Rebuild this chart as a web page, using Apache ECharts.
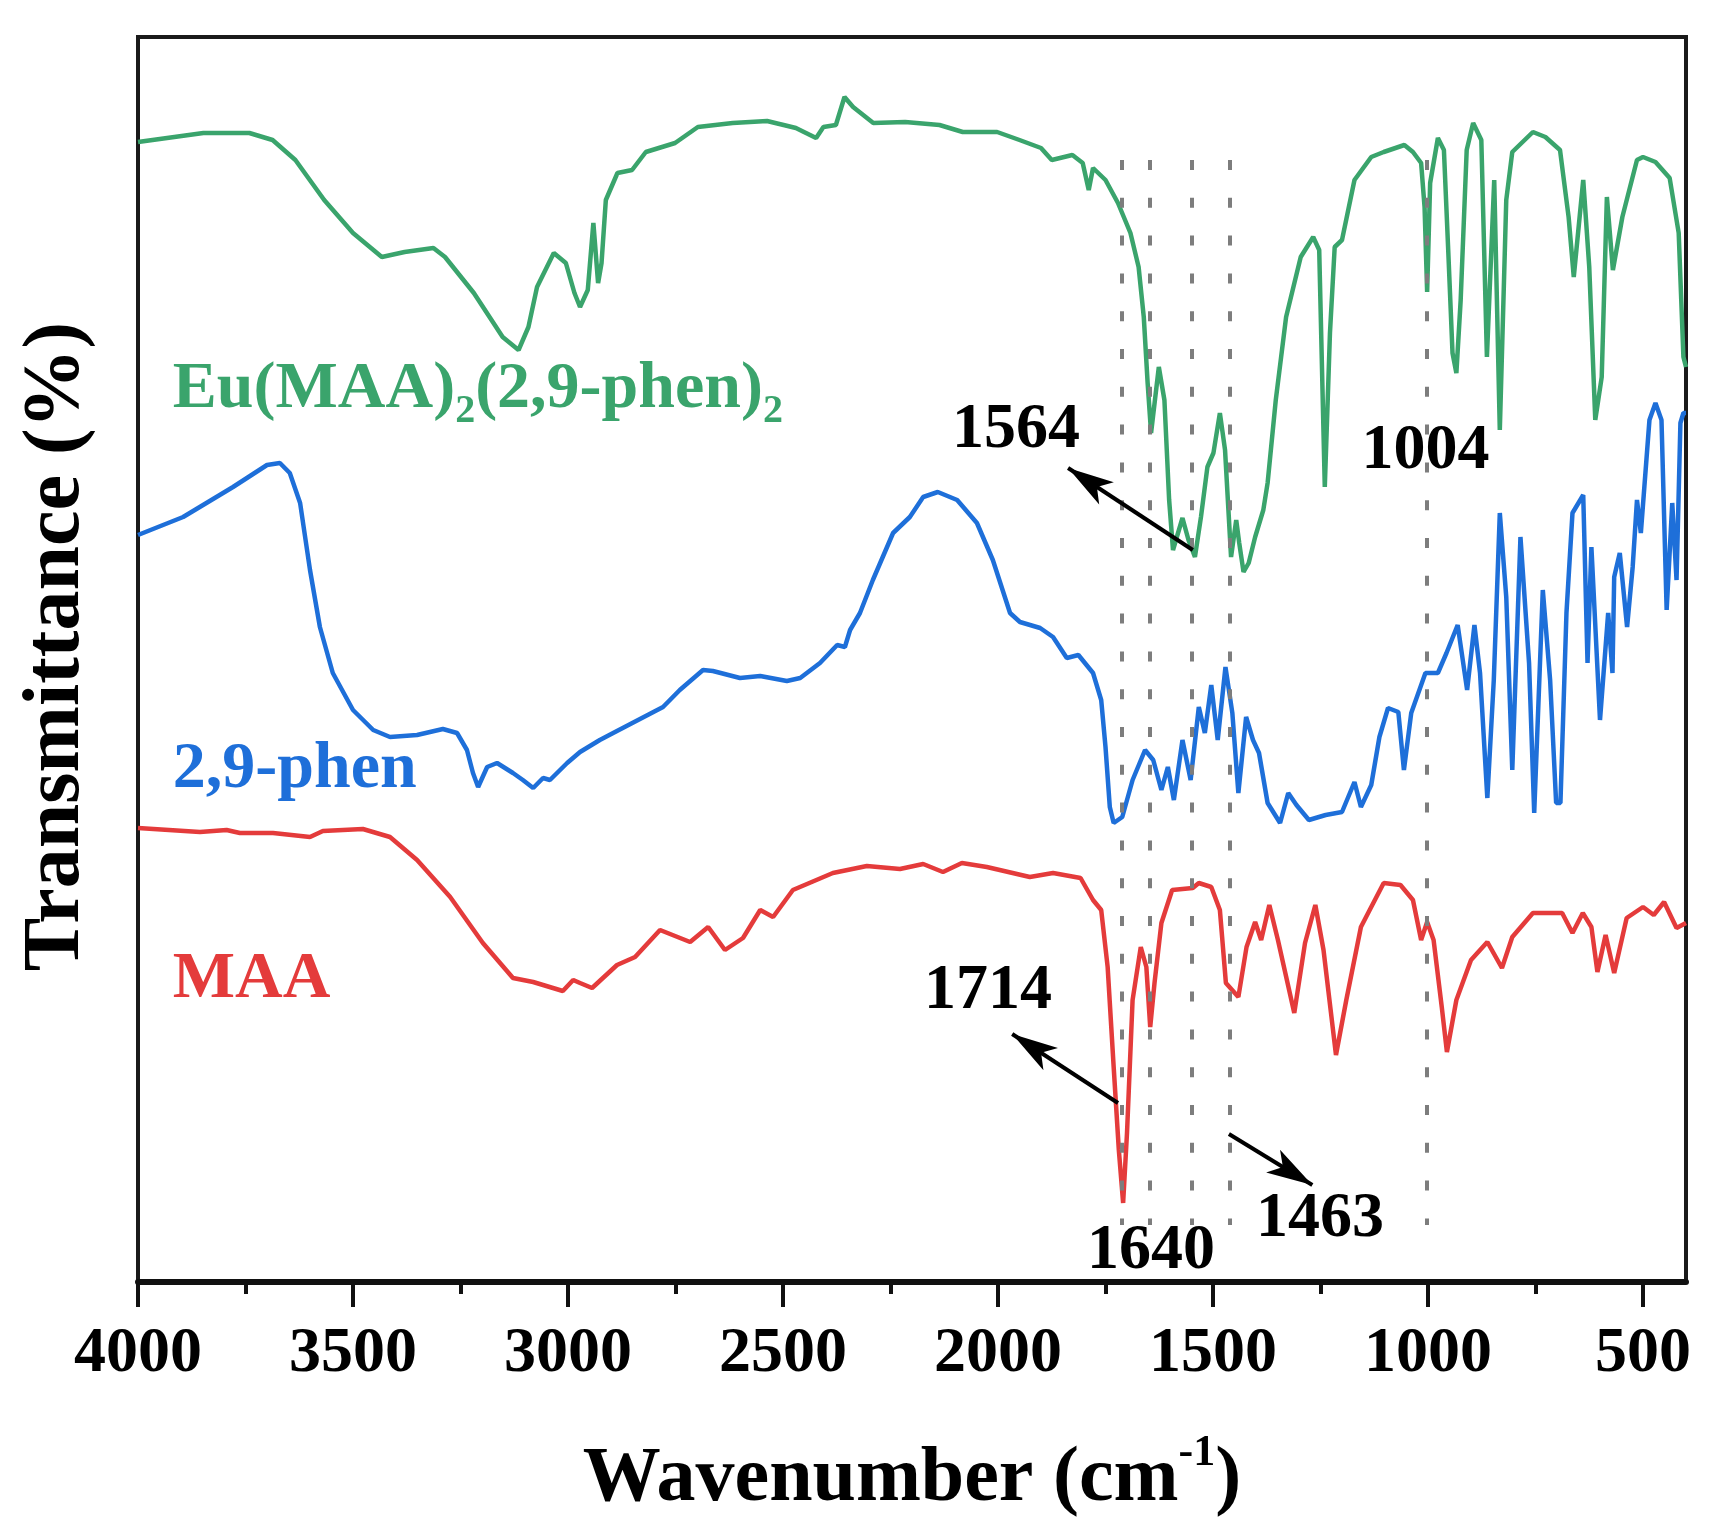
<!DOCTYPE html>
<html><head><meta charset="utf-8">
<script src="https://cdn.jsdelivr.net/npm/echarts@6/dist/echarts.min.js"></script>
<style>html,body{margin:0;padding:0;background:#fff}#c{width:1712px;height:1534px}</style>
</head><body><div id="c"></div>
<script>
// ---- data: wavenumber (cm-1) and transmittance (a.u., stacked offsets) ----
const euWn = [4000,3848,3741,3687,3634,3567,3500,3433,3380,3313,3286,3219,3152,3115,3092,3072,3033,3005,2985,2972,2954,2941,2930,2922,2912,2885,2851,2819,2751,2698,2617,2537,2470,2423,2406,2377,2357,2337,2290,2216,2136,2082,2002,1950,1900,1875,1827,1803,1789,1779,1750,1721,1692,1673,1661,1652,1644,1626,1613,1602,1593,1571,1557,1542,1528,1513,1499,1484,1472,1458,1446,1439,1429,1417,1402,1383,1373,1354,1330,1296,1267,1253,1240,1228,1217,1200,1171,1132,1103,1055,1035,1016,1008,1002,995,977,963,953,943,934,924,910,895,876,863,846,833,818,804,756,727,693,673,661,639,625,611,596,584,570,548,514,500,471,438,417,406,400];
const euT = [1140,1149,1149,1142,1122,1082,1049,1025,1030,1034,1025,989,945,932,955,995,1029,1019,989,975,992,1059,999,1019,1082,1109,1112,1130,1139,1155,1159,1161,1154,1144,1155,1157,1185,1175,1159,1160,1157,1150,1150,1142,1134,1122,1127,1119,1092,1114,1102,1079,1049,1015,965,899,849,915,882,782,732,764,742,725,765,815,829,869,832,725,762,739,710,719,745,772,799,882,965,1025,1045,1032,795,949,1035,1042,1102,1125,1130,1137,1130,1119,1075,990,1099,1144,1132,1032,929,909,982,1132,1159,1142,925,1102,852,1082,1130,1150,1145,1132,1065,1005,1102,1015,862,905,1085,1012,1065,1122,1125,1120,1104,1049,925,915];

const phenWn = [4000,3895,3779,3700,3670,3647,3623,3600,3577,3547,3500,3453,3414,3351,3291,3258,3235,3221,3209,3188,3165,3128,3105,3081,3058,3042,3002,2972,2926,2895,2779,2740,2686,2663,2600,2553,2491,2460,2414,2374,2356,2344,2321,2291,2244,2205,2174,2140,2095,2049,2012,1972,1949,1902,1872,1840,1813,1779,1760,1750,1740,1731,1711,1687,1658,1639,1620,1605,1591,1571,1552,1533,1519,1504,1489,1471,1455,1441,1423,1407,1393,1373,1344,1325,1306,1277,1238,1200,1171,1156,1132,1113,1093,1069,1056,1039,1006,977,957,931,909,892,879,862,847,833,818,804,785,765,753,733,716,702,692,678,664,639,629,620,600,581,571,567,554,537,524,514,505,485,471,457,445,432,422,413,406,400];
const phenT = [747,765,795,817,819,809,779,712,655,609,572,552,545,547,553,549,532,509,495,515,519,509,502,494,504,502,519,530,542,549,575,592,612,611,604,606,601,604,619,637,635,652,669,702,749,765,785,790,782,759,722,669,660,654,645,624,627,609,582,535,475,459,465,502,532,522,492,515,482,542,502,575,549,597,542,615,569,489,565,542,529,479,459,489,477,462,467,470,500,475,497,545,574,570,512,569,609,609,629,657,592,657,609,484,602,769,685,512,745,619,469,692,602,479,479,669,769,787,619,735,562,669,609,705,729,655,715,782,749,862,879,862,672,779,702,859,869,869];

const maaWn = [4000,3856,3794,3763,3686,3600,3570,3477,3414,3351,3274,3198,3128,3081,3012,2988,2972,2944,2886,2844,2786,2716,2674,2635,2593,2553,2523,2477,2384,2305,2228,2174,2128,2084,2026,1926,1872,1808,1779,1760,1745,1731,1719,1709,1700,1687,1668,1655,1646,1636,1620,1595,1547,1533,1504,1484,1470,1441,1422,1402,1388,1369,1349,1311,1286,1262,1243,1214,1190,1156,1132,1103,1064,1035,1016,1002,987,968,956,934,900,862,828,804,756,688,664,640,620,606,587,567,538,500,475,451,422,400];
const maaT = [454,450,452,449,449,445,451,453,445,422,385,339,304,300,291,302,299,294,317,325,352,340,355,332,344,372,365,392,409,416,413,418,410,419,415,405,409,404,382,372,315,215,132,79,149,282,335,315,255,299,359,392,394,399,395,372,299,285,335,360,342,377,342,269,339,377,332,227,282,355,375,399,397,382,342,360,342,275,230,282,322,340,314,345,369,369,349,369,355,310,347,309,364,375,367,380,354,359];

const majorTicks = [4000,3500,3000,2500,2000,1500,1000,500];
const minorTicks = [3750,3250,2750,2250,1750,1250,750];

// guide lines and annotations (data coordinates)
const guideWn = [1713,1648,1549,1460,1004];
const guideTop = 1122, guideBottom = 57;
const annoText = ['1564','1004','1714','1640','1463'];
const annoWn = [1958,1006,2023,1644,1251];
const annoT = [852,831,291,31,63];
const arrowFrom = [[1547,732],[1721,179],[1463,148]];
const arrowTo = [[1837,814],[1967,248],[1269,97]];
const seriesLabelWn = 3919;
const seriesLabelT = {eu: 892, phen: 512, maa: 302};

// ---- chart ----
const F = "'Liberation Serif','Times New Roman',serif";
const GREEN = '#3aa46c', BLUE = '#1e6fd9', RED = '#e43b3b';
const zip = (a, b) => a.map((v, i) => [v, b[i]]);

const chart = echarts.init(document.getElementById('c'), null, {renderer: 'canvas'});

function textPoint(wn, t, fmt, color, size, align, rich) {
  return {
    coord: [wn, t], symbol: 'circle', symbolSize: 1,
    itemStyle: {color: 'rgba(0,0,0,0)'},
    label: {show: true, position: 'inside', formatter: fmt, align: align || 'center', verticalAlign: 'middle',
      color: color, fontSize: size, fontWeight: 'bold', fontFamily: F, rich: rich || {}}
  };
}

const subRich = (c) => ({s: {fontSize: 40, fontWeight: 'bold', fontFamily: F, color: c, verticalAlign: 'top', padding: [44, 0, 0, 0]}});

const option = {
  animation: false,
  backgroundColor: '#fff',
  grid: {left: 138, right: 26, top: 37, bottom: 252, show: true, borderColor: '#1a1a1a', borderWidth: 4, backgroundColor: 'transparent'},
  xAxis: [{
    type: 'value', min: 400, max: 4000, inverse: true, position: 'bottom',
    axisLine: {show: true, onZero: false, lineStyle: {color: '#111', width: 6}},
    axisTick: {show: true, inside: false, length: 25, lineStyle: {color: '#111', width: 4}, customValues: majorTicks},
    axisLabel: {show: true, customValues: majorTicks, margin: 40, fontSize: 64, fontWeight: 'bold', fontFamily: F, color: '#000', formatter: v => String(v)},
    splitLine: {show: false},
    name: 'Wavenumber (cm{sup|-1})', nameLocation: 'middle', nameGap: 150,
    nameTextStyle: {fontSize: 78, fontWeight: 'bold', fontFamily: F, color: '#000', lineHeight: 96,
      rich: {sup: {fontSize: 44, fontWeight: 'bold', fontFamily: F, color: '#000', verticalAlign: 'top', lineHeight: 50}}}
  }, {
    type: 'value', min: 400, max: 4000, inverse: true, position: 'bottom',
    axisLine: {show: false, onZero: false},
    axisTick: {show: true, inside: false, length: 12, lineStyle: {color: '#111', width: 4}, customValues: minorTicks},
    axisLabel: {show: false}, splitLine: {show: false}
  }],
  yAxis: {
    type: 'value', min: 0, max: 1245,
    axisLine: {show: false}, axisTick: {show: false}, axisLabel: {show: false}, splitLine: {show: false},
    name: 'Transmittance (%)', nameLocation: 'middle', nameGap: 41, nameRotate: 90,
    nameTextStyle: {fontSize: 80, fontWeight: 'bold', fontFamily: F, color: '#000', padding: [0, 0, 0, 26]}
  },
  series: [{
    type: 'line', name: 'Eu(MAA)2(2,9-phen)2', data: zip(euWn, euT), showSymbol: false, symbol: 'none',
    lineStyle: {color: GREEN, width: 4.5}, itemStyle: {color: GREEN}, z: 3, silent: true,
    markPoint: {silent: true, animation: false, data: [
      textPoint(seriesLabelWn, seriesLabelT.eu, 'Eu(MAA){s|2}(2,9-phen){s|2}', GREEN, 66, 'left', subRich(GREEN)),
      textPoint(seriesLabelWn, seriesLabelT.phen, '2,9-phen', BLUE, 66, 'left'),
      textPoint(seriesLabelWn, seriesLabelT.maa, 'MAA', RED, 66, 'left')
    ].concat(annoText.map((t, i) => textPoint(annoWn[i], annoT[i], t, '#000', 64, 'center')))}
  }, {
    type: 'line', name: '2,9-phen', data: zip(phenWn, phenT), showSymbol: false, symbol: 'none',
    lineStyle: {color: BLUE, width: 4.5}, itemStyle: {color: BLUE}, z: 3, silent: true,
    markLine: {silent: true, animation: false, symbol: ['none', 'none'], label: {show: false},
      lineStyle: {color: '#7d7d7d', width: 4, type: [10, 27.8], cap: 'butt'},
      data: guideWn.map(w => [{coord: [w, guideTop]}, {coord: [w, guideBottom]}])}
  }, {
    type: 'line', name: 'MAA', data: zip(maaWn, maaT), showSymbol: false, symbol: 'none',
    lineStyle: {color: RED, width: 4.5}, itemStyle: {color: RED}, z: 3, silent: true,
    markLine: {silent: true, animation: false, symbol: ['none', 'arrow'], symbolSize: [1, 46], label: {show: false},
      lineStyle: {color: '#000', width: 4, type: 'solid'},
      itemStyle: {color: '#000'},
      data: arrowFrom.map((p, i) => [{coord: p}, {coord: arrowTo[i], symbolSize: [20, 46]}])}
  }]
};
chart.setOption(option);
</script></body></html>
